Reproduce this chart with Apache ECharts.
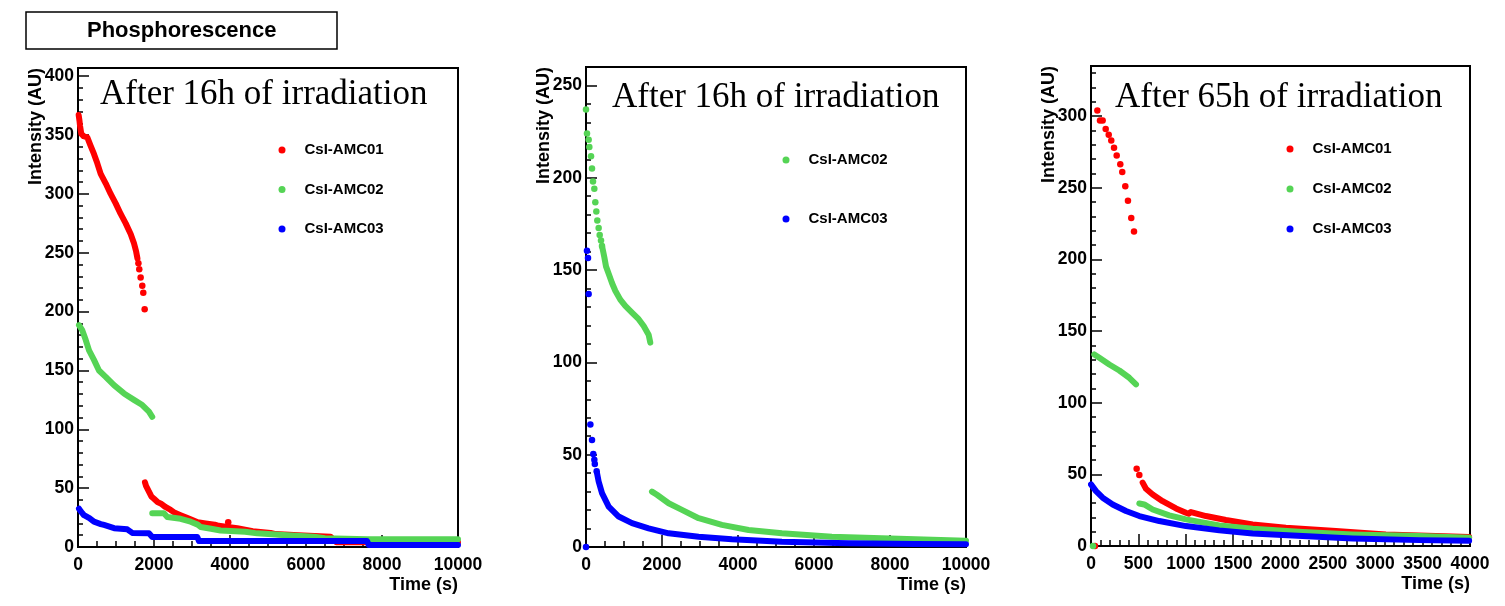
<!DOCTYPE html>
<html>
<head>
<meta charset="utf-8">
<style>
html,body{margin:0;padding:0;background:#ffffff;}
#chart{width:1505px;height:606px;}
</style>
<script src="https://cdn.jsdelivr.net/npm/echarts/dist/echarts.min.js"></script>
</head>
<body>
<div id="chart"></div>
<script>
// ---------- labels ----------
const figureTitle = 'Phosphorescence';
const seriesNames = ['CsI-AMC01', 'CsI-AMC02', 'CsI-AMC03'];
const panelTitles = ['After 16h of irradiation', 'After 16h of irradiation', 'After 65h of irradiation'];
const panelLegends = [
  ['CsI-AMC01', 'CsI-AMC02', 'CsI-AMC03'],
  ['CsI-AMC02', 'CsI-AMC03'],
  ['CsI-AMC01', 'CsI-AMC02', 'CsI-AMC03']
];
const xAxisTitle = 'Time (s)';
const yAxisTitle = 'Intensity (AU)';

// ---------- axis ranges / ticks ----------
const xMax = [10000, 10000, 4000];
const xInterval = [2000, 2000, 500];
const xMinorSplit = [4, 4, 5];
const yMax = [407, 260, 335];
const yInterval = [50, 50, 50];
const yMinorInterval = [10, 10, 10];

// ---------- data: [time (s), intensity (AU)] ----------
// Panel 1 (after 16h)
const p1RedDots = [[1590,241],[1612,236],[1648,229],[1692,222],[1718,216],[1754,202],[3953,21]];
const p1RedEarly = [[18,367],[40,362],[53,358],[87,351],[150,349],[245,348],[330,341],[420,334],[508,326],[597,317],[728,309],[860,300],[991,292],[1123,283],[1255,275],[1386,266],[1473,258],[1530,251],[1565,245]];
const p1RedLate = [[1762,55],[1790,52],[1867,47],[1930,43],[2000,41],[2100,38],[2175,37],[2300,34],[2438,31.5],[2550,29],[2701,27],[2850,25],[2964,23.5],[3150,21],[3358,20],[3600,19],[3700,18],[4190,16],[4600,13.5],[5068,12],[5200,11],[5800,10],[6646,8.7],[6700,7],[6800,4],[10000,4]];
const p1GreenEarly = [[26,188.5],[60,188],[114,184],[202,176],[290,167],[420,159],[552,150],[728,144.6],[947,137.5],[1210,130.5],[1473,125],[1692,120.6],[1867,115],[1954,110.6]];
const p1GreenLate = [[1954,28.6],[2262,28.6],[2350,25.5],[2700,24],[2964,21.5],[3150,19],[3227,17],[3500,15.5],[3752,14],[4400,13],[4716,11.6],[5500,10],[6207,8.7],[6500,7.5],[7608,6.5],[10000,6.5]];
const p1BlueLine = [[26,32.5],[80,30],[158,27],[300,24.5],[420,21.5],[600,19.5],[684,18.7],[950,16],[991,15],[1297,15],[1428,12],[1867,11.6],[1954,8.5],[3140,8.5],[3183,5],[7608,5],[7653,1.7],[10000,1.7]];

// Panel 2 (after 16h)
const p2GreenDots = [[0,237],[26,224],[70,220.6],[88,216.7],[132,211.6],[158,205],[184,198],[219,194],[245,186.8],[272,181.7],[298,176.8],[333,172.8],[360,169],[395,166],[421,163]];
const p2GreenEarly = [[421,163],[447,160.5],[482,157],[526,152],[597,148],[684,143],[771,138.8],[902,134],[1034,130.6],[1210,127],[1386,123.4],[1518,119.7],[1648,115],[1692,110.7]];
const p2GreenLate = [[1736,30],[1780,29.5],[1867,28.3],[2175,23.7],[2525,20.1],[2964,15.6],[3577,12],[4278,9.2],[5155,7.4],[6470,5.6],[7785,4.7],[10000,3.4]];
const p2BlueDots = [[0,0],[26,160.5],[53,156.5],[70,137],[115,66.3],[158,58],[192,50.4],[219,47.3],[232,45],[280,41]];
const p2BlueLine = [[290,40],[333,35.5],[421,29.2],[597,21.9],[860,16.5],[1210,12.9],[1648,10.1],[2175,7.4],[2964,5.6],[3840,4.2],[5155,2.9],[6909,2],[8661,1.6],[10000,1.5]];

// Panel 3 (after 65h)
const p3RedDots = [[42,0],[67,304],[95,297],[123,297],[155,291],[187,287],[214,283],[243,278],[271,272.6],[309,266.5],[330,261],[362,251],[390,241],[425,229],[454,219.5],[482,53.9],[510,49.5]];
const p3RedLine = [[545,44.2],[580,40],[651,36],[756,31.3],[897,26.2],[1002,23.2],[1030,22.5],[1055,23.7],[1213,20.9],[1424,18.1],[1706,15.1],[2057,12.8],[2585,10.4],[3112,8.1],[3991,6.2]];
const p3GreenDots = [[21,0]];
const p3GreenEarly = [[35,133.7],[88,131.4],[193,126.7],[299,122.5],[404,117.4],[475,112.8]];
const p3GreenLate = [[510,29.7],[562,29],[651,25.5],[826,21.4],[1002,18.6],[1354,14.4],[1706,12],[2233,9.7],[2761,8.1],[3464,6.9],[3991,5.8]];
const p3BlueLine = [[0,43],[53,38.3],[123,33.7],[229,29],[369,24.4],[510,20.9],[721,17.4],[1002,13.9],[1354,10.9],[1706,8.8],[2233,6.9],[2761,5.3],[3464,4.1],[3991,3.7]];

// ---------- style ----------
const COLORS = { 'CsI-AMC01': '#ff0000', 'CsI-AMC02': '#55d455', 'CsI-AMC03': '#0000ff' };
const LINE_Z = { 'CsI-AMC01': 2, 'CsI-AMC02': 3, 'CsI-AMC03': 4 };
const SANS = '"Liberation Sans", Arial, Helvetica, sans-serif';
const SERIF = '"Liberation Serif", "Times New Roman", serif';

const grids = [
  { left: 78, top: 68, width: 380, height: 479 },
  { left: 586, top: 67, width: 380, height: 480 },
  { left: 1091, top: 66, width: 379, height: 480 }
];
const legendPos = [
  { left: 278.5, top: 142, gap: 23.5 },
  { left: 782.5, top: 152, gap: 43 },
  { left: 1286.5, top: 141, gap: 24 }
];
const titlePos = [
  { left: 100, top: 77 },
  { left: 612, top: 80 },
  { left: 1115, top: 80 }
];

function scatterSeries(name, panel, data) {
  return {
    type: 'scatter', name: name, xAxisIndex: panel, yAxisIndex: panel, data: data,
    symbol: 'circle', symbolSize: 6.5, z: 5, silent: true,
    itemStyle: { color: COLORS[name], borderWidth: 0, opacity: 1 }
  };
}
function lineSeries(name, panel, data) {
  return {
    type: 'line', name: name, xAxisIndex: panel, yAxisIndex: panel, data: data,
    showSymbol: false, symbol: 'none', z: LINE_Z[name], silent: true,
    itemStyle: { color: COLORS[name] },
    lineStyle: { color: COLORS[name], width: 6, cap: 'round', join: 'round', opacity: 1 }
  };
}

const series = [
  // scatter first (legend icons)
  scatterSeries('CsI-AMC01', 0, p1RedDots),
  scatterSeries('CsI-AMC02', 1, p2GreenDots),
  scatterSeries('CsI-AMC03', 1, p2BlueDots),
  scatterSeries('CsI-AMC01', 2, p3RedDots),
  scatterSeries('CsI-AMC02', 2, p3GreenDots),
  // panel 1
  lineSeries('CsI-AMC01', 0, p1RedEarly),
  lineSeries('CsI-AMC01', 0, p1RedLate),
  lineSeries('CsI-AMC02', 0, p1GreenEarly),
  lineSeries('CsI-AMC02', 0, p1GreenLate),
  lineSeries('CsI-AMC03', 0, p1BlueLine),
  // panel 2
  lineSeries('CsI-AMC02', 1, p2GreenEarly),
  lineSeries('CsI-AMC02', 1, p2GreenLate),
  lineSeries('CsI-AMC03', 1, p2BlueLine),
  // panel 3
  lineSeries('CsI-AMC01', 2, p3RedLine),
  lineSeries('CsI-AMC02', 2, p3GreenEarly),
  lineSeries('CsI-AMC02', 2, p3GreenLate),
  lineSeries('CsI-AMC03', 2, p3BlueLine)
];

const axisLineStyle = { color: '#000', width: 2 };
const tickLabel = { color: '#000', fontFamily: SANS, fontWeight: 'bold', fontSize: 17.5, formatter: v => String(v) };
const axisNameStyle = { color: '#000', fontFamily: SANS, fontWeight: 'bold', fontSize: 18 };

const xAxes = grids.map((g, i) => ({
  gridIndex: i, type: 'value', position: 'bottom',
  min: 0, max: xMax[i], interval: xInterval[i],
  axisLine: { show: true, onZero: false, lineStyle: axisLineStyle },
  axisTick: { show: true, inside: true, length: 12, lineStyle: { color: '#000', width: 1.5 } },
  minorTick: { show: true, splitNumber: xMinorSplit[i], length: 6, lineStyle: { color: '#000', width: 1.5 } },
  axisLabel: Object.assign({ margin: 9 }, tickLabel),
  splitLine: { show: false }, minorSplitLine: { show: false },
  name: xAxisTitle, nameLocation: 'end', nameGap: 0, nameMoveOverlap: false,
  nameTextStyle: Object.assign({ align: 'right', verticalAlign: 'top', padding: [29, 0, 0, 0] }, axisNameStyle)
}));

const yAxesMain = grids.map((g, i) => ({
  gridIndex: i, type: 'value', position: 'left',
  min: 0, max: yMax[i], interval: yInterval[i],
  axisLine: { show: true, onZero: false, lineStyle: axisLineStyle },
  axisTick: { show: true, inside: true, length: 11, lineStyle: { color: '#000', width: 1.5 } },
  axisLabel: Object.assign({ margin: 4, showMaxLabel: false }, tickLabel),
  splitLine: { show: false },
  name: yAxisTitle, nameLocation: 'end', nameGap: 0, nameRotate: 90, nameMoveOverlap: false,
  nameTextStyle: Object.assign({ align: 'right', verticalAlign: 'bottom', padding: [0, 0, 33, 0] }, axisNameStyle)
}));
const yAxesMinor = grids.map((g, i) => ({
  gridIndex: i, type: 'value', position: 'left',
  min: 0, max: yMax[i], interval: yMinorInterval[i],
  axisLine: { show: false },
  axisTick: { show: true, inside: true, length: 5, lineStyle: { color: '#000', width: 1.5 } },
  axisLabel: { show: false },
  splitLine: { show: false }
}));

const titles = [{
  text: figureTitle, left: 26, top: 12,
  padding: [7, 61, 7, 61], borderColor: '#000', borderWidth: 1.5,
  textStyle: { fontFamily: SANS, fontWeight: 'bold', fontSize: 22, lineHeight: 23, color: '#000' }
}].concat(panelTitles.map((t, i) => ({
  text: t, left: titlePos[i].left, top: titlePos[i].top, padding: 0,
  textStyle: { fontFamily: SERIF, fontWeight: 'normal', fontSize: 35, lineHeight: 35, color: '#000' }
})));

const legends = panelLegends.map((names, i) => ({
  data: names, orient: 'vertical',
  left: legendPos[i].left, top: legendPos[i].top, itemGap: legendPos[i].gap,
  icon: 'circle', itemWidth: 7, itemHeight: 7, padding: 0,
  selectedMode: false,
  itemStyle: { borderWidth: 0, opacity: 1 },
  textStyle: { fontFamily: SANS, fontWeight: 'bold', fontSize: 15, lineHeight: 16, color: '#000', padding: [0, 0, 0, 14] }
}));

const option = {
  animation: false,
  backgroundColor: '#ffffff',
  title: titles,
  legend: legends,
  grid: grids.map(g => Object.assign({ show: true, borderColor: '#000', borderWidth: 2, containLabel: false }, g)),
  xAxis: xAxes,
  yAxis: yAxesMain.concat(yAxesMinor),
  series: series
};

const chart = echarts.init(document.getElementById('chart'), null, { renderer: 'canvas' });
chart.setOption(option);
</script>
</body>
</html>
